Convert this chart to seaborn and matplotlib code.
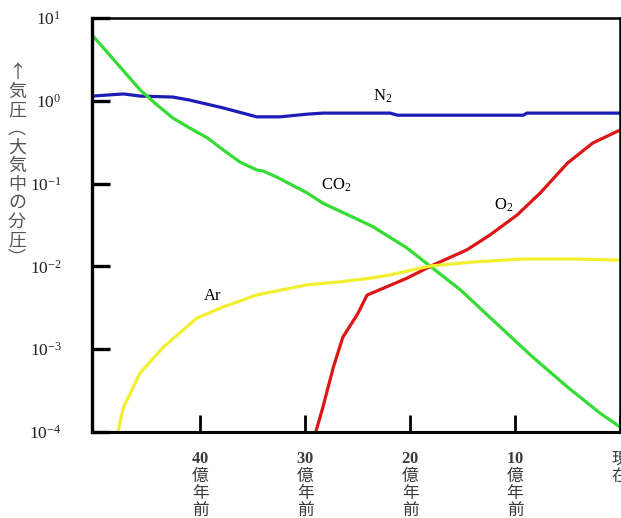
import numpy as np
import pandas as pd
import matplotlib
matplotlib.use("Agg")
import matplotlib.pyplot as plt
import seaborn as sns

# ---- data (time in 億年前, value = partial pressure in atm) ----
n2_t = [50.3, 47.3, 45.7, 42.6, 41.0, 37.8, 34.6, 32.4, 29.8, 28.3, 21.9, 21.2, 9.2, 8.9, 0.0]
n2_v = [1.14, 1.21, 1.14, 1.11, 1.02, 0.82, 0.64, 0.64, 0.69, 0.71, 0.71, 0.67, 0.67, 0.71, 0.71]

co2_t = [50.3, 45.7, 44.1, 42.6, 41.0, 39.3, 37.8, 36.2, 34.6, 34.0, 32.7, 29.8, 28.3,
         24.8, 23.5, 20.3, 18.1, 15.2, 11.4, 8.3, 5.0, 1.9, 0.0]
co2_v = [6.24, 1.35, 0.89, 0.62, 0.47, 0.356, 0.255, 0.182, 0.146, 0.142, 0.120, 0.077, 0.058,
         0.036, 0.030, 0.0167, 0.0101, 0.0052, 0.00185, 0.00080, 0.000349, 0.000169, 0.000115]

o2_t = [29.2, 28.3, 27.3, 26.4, 25.0, 24.1, 20.3, 17.8, 14.6, 12.4, 9.8, 7.6, 5.0, 2.6, 0.0]
o2_v = [0.00008, 0.0002, 0.00061, 0.0014, 0.00266, 0.0045, 0.0072, 0.0104, 0.0158, 0.0239,
        0.0418, 0.077, 0.177, 0.309, 0.443]

ar_t = [48.0, 47.3, 45.7, 43.5, 40.3, 37.8, 34.6, 29.8, 26.7, 23.8, 21.9, 18.1, 14.0, 9.2, 4.5, 0.0]
ar_v = [0.00008, 0.0002, 0.00052, 0.00106, 0.00238, 0.00324, 0.00452, 0.0060, 0.0065, 0.0072,
        0.0079, 0.0101, 0.0113, 0.0123, 0.0123, 0.0119]

gas_names = ["N2", "CO2", "O2", "Ar"]
gas_labels = [r"N$_{2}$", r"CO$_{2}$", r"O$_{2}$", "Ar"]
label_t = [22.6, 27.0, 11.1, 38.8]
label_v = [1.14, 0.096, 0.055, 0.0044]

x_ticks = [40, 30, 20, 10, 0]
x_ticklabels = ["$\\mathbf{40}$\n億\n年\n前", "$\\mathbf{30}$\n億\n年\n前",
                "$\\mathbf{20}$\n億\n年\n前", "$\\mathbf{10}$\n億\n年\n前", "現\n在"]
y_ticks = [1e1, 1e0, 1e-1, 1e-2, 1e-3, 1e-4]
y_ticklabels = [r"$10^{1}$", r"$10^{0}$", r"$10^{-1}$", r"$10^{-2}$", r"$10^{-3}$", r"$10^{-4}$"]
ylabel_text = "↑\n気\n圧\n︵\n大\n気\n中\nの\n分\n圧\n︶"

colors = {"N2": "#1c1cb8", "CO2": "#33dd33", "O2": "#dd1515", "Ar": "#f2ee30"}

frames = []
for name, t, v in [("N2", n2_t, n2_v), ("CO2", co2_t, co2_v), ("O2", o2_t, o2_v), ("Ar", ar_t, ar_v)]:
    frames.append(pd.DataFrame({"t": t, "value": v, "gas": name}))
df = pd.concat(frames, ignore_index=True)

# ---- style ----
sns.set_style("white")
plt.rcParams["font.family"] = ["Liberation Serif", "Noto Sans CJK JP", "DejaVu Sans"]
plt.rcParams["mathtext.fontset"] = "custom"
plt.rcParams["mathtext.rm"] = "Liberation Serif"
plt.rcParams["mathtext.it"] = "Liberation Serif:italic"
plt.rcParams["mathtext.bf"] = "Liberation Serif:bold"

fig = plt.figure(figsize=(6.21, 5.18), dpi=100)
ax = fig.add_axes([92 / 621, 86 / 518, 528 / 621, 414 / 518])

sns.lineplot(data=df, x="t", y="value", hue="gas", hue_order=gas_names,
             palette=colors, estimator=None, sort=True, linewidth=2.3,
             legend=False, ax=ax)

ax.set_yscale("log")
ax.set_ylim(1e-4, 1e1)
ax.set_xlim(50.3, 0)
ax.minorticks_off()

ax.set_yticks(y_ticks)
ax.set_yticklabels(y_ticklabels, fontsize=12.5, color="#222222")
ax.set_xticks(x_ticks)
ax.set_xticklabels(x_ticklabels, fontsize=12, color="#3a3a3a", linespacing=1.1,
                   va="top")

ax.tick_params(axis="y", left=True, direction="in", length=13, width=2.4,
               color="black", pad=22)
ax.tick_params(axis="x", bottom=True, direction="in", length=12, width=2.0,
               color="black", pad=14)

ax.set_xlabel("")
ax.set_ylabel("")

for s in ax.spines.values():
    s.set_color("black")
    s.set_linewidth(1.8)
ax.spines["left"].set_linewidth(2.4)
ax.spines["bottom"].set_linewidth(2.2)

for lab, t, v in zip(gas_labels, label_t, label_v):
    ax.text(t, v, lab, ha="center", va="center", fontsize=12, color="black")

fig.text(17 / 621, 1 - 166 / 518, ylabel_text, ha="center", va="center",
         fontsize=13, color="#555555", linespacing=1.04,
         family=["Noto Sans CJK JP", "DejaVu Sans"])

fig.savefig("out.png", dpi=100)
